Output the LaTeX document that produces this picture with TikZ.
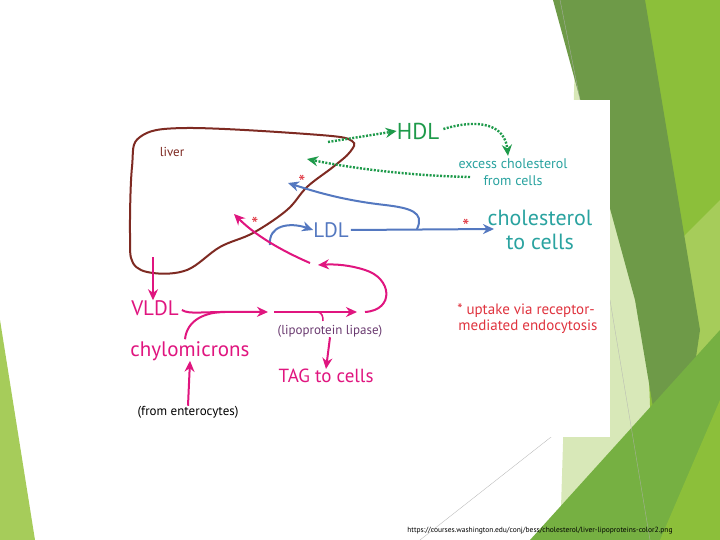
\documentclass[tikz,border=0pt]{standalone}
\usepackage{fontspec}
\setmainfont{PT Sans}
\usetikzlibrary{arrows.meta,calc}
\definecolor{mag}{HTML}{E0157F}
\definecolor{brn}{HTML}{7E2A22}
\definecolor{grn}{HTML}{1E9A4A}
\definecolor{tea}{HTML}{2AA3A0}
\definecolor{blu}{HTML}{5478C0}
\definecolor{rd}{HTML}{E0343F}
\definecolor{lipc}{HTML}{6A3A70}
\definecolor{g1}{HTML}{8CBF3A}
\definecolor{g2}{HTML}{6E9A48}
\definecolor{g3}{HTML}{A6CC5A}
\definecolor{g4}{HTML}{D8E8B8}
\definecolor{g5}{HTML}{76B042}
\tikzset{
 tip/.style={-{Stealth[length=11pt,width=10pt]}},
 mline/.style={mag,line width=2pt,tip},
 bline/.style={blu,line width=2pt,tip},
 gdot/.style={grn,line width=2.4pt,dash pattern=on 2pt off 1.5pt,tip},
 lbl/.style={inner sep=0pt,anchor=center},
 ast/.style={rd,inner sep=0pt,font=\fontsize{20}{20}\selectfont}
}
\begin{document}
\begin{tikzpicture}[x=1pt,y=-1pt]
\useasboundingbox (0,0) rectangle (720,540);
\fill[white] (0,0) rectangle (720,540);
% decorations
\fill[g3] (0,320) -- (35,540) -- (0,540) -- cycle;
\fill[g4] (575,60) -- (640,120) -- (660,540) -- (560,540) -- cycle;
\fill[g1] (635,0) -- (720,0) -- (720,540) -- (655,540) -- cycle;
\fill[g3] (660,260) -- (720,200) -- (720,540) -- (690,540) -- cycle;
\fill[g2] (553,0) -- (645,0) -- (700,330) -- (672,520) -- (635,300) -- cycle;
\fill[g5] (530,540) -- (720,330) -- (720,540) -- cycle;
\fill[g1] (660,540) -- (720,400) -- (720,540) -- cycle;
\draw[gray!60,line width=0.3pt] (560,0) -- (580,100) (610,300) -- (650,540) (420,540) -- (560,430);
% white image
\fill[white] (120,100) rectangle (610,437);
% liver
\node[lbl,brn,font=\fontsize{13}{13}\selectfont] (liver) at (172,152) {liver};
\draw[brn,line width=2pt] plot[smooth cycle,tension=0.6] coordinates{(140,137) (187,128) (320,135) (352,141) (350,152) (333,167) (307,187) (287,210) (253,233) (220,247) (187,270) (153,273) (133,263) (130,233) (132,167)};
% HDL
\node[lbl,grn,font=\fontsize{23}{23}\selectfont] (hdl) at (418,131) {HDL};
\node[lbl,tea,font=\fontsize{14}{14}\selectfont] (exc) at (513,164) {excess cholesterol};
\node[lbl,tea,font=\fontsize{14}{14}\selectfont] (fc) at (513,181) {from cells};
\coordinate (h0) at (328,142);
\draw[gdot] (h0) -- (hdl.west);
\draw[gdot] ($(hdl.east)+(4,-2)$) .. controls (480,118) and (505,125) .. ($(exc.north)+(-5,-3)$);
\coordinate (e0) at (470,177);
\coordinate (e1) at (307,159);
\draw[gdot] (e0) .. controls (420,176) and (360,170) .. (e1);
% LDL
\node[lbl,blu,font=\fontsize{21}{21}\selectfont] (ldl) at (331,230) {LDL};
\node[lbl,tea,font=\fontsize{22}{22}\selectfont] (chol) at (540,218) {cholesterol};
\node[lbl,tea,font=\fontsize{22}{22}\selectfont] (tc) at (540,242) {to cells};
\draw[bline] (ldl.east) ++(2,0) -- (494,229);
\coordinate (b0) at (417,229);
\coordinate (b1) at (288,183);
\draw[bline] (b0) .. controls (425,212) and (410,208) .. (385,205) .. controls (340,200) and (310,190) .. (b1);
\coordinate (c0) at (270,245);
\draw[bline] (c0) .. controls (268,225) and (290,222) .. (ldl.west);
\node[ast] (a1) at (302,182) {*};
\node[ast] (a2) at (255,224) {*};
\node[ast] (a3) at (466,226) {*};
% magenta
\node[lbl,mag,font=\fontsize{21}{21}\selectfont] (vldl) at (155,308) {VLDL};
\node[lbl,mag,font=\fontsize{21}{21}\selectfont] (chy) at (190,351) {chylomicrons};
\node[lbl,mag,font=\fontsize{19}{19}\selectfont] (tag) at (326,376) {TAG to cells};
\node[lbl,lipc,font=\fontsize{13}{13}\selectfont] (lip) at (330,331) {(lipoprotein lipase)};
\node[lbl,black,font=\fontsize{13}{13}\selectfont] (ent) at (188,412) {(from enterocytes)};
\coordinate (l0) at (153,257);
\draw[mline] (l0) -- (vldl.north -| l0);
\coordinate (m1) at (268,312);
\draw[mline] (vldl.east) ++(3,2) .. controls (190,315) and (200,311) .. (m1);
\draw[mag,line width=2pt] (chy.north) ++(-5,-2) .. controls (187,320) and (205,312) .. (225,312);
\draw[mline] (ent.north) -- (chy.south);
\coordinate (m2) at (274,312);
\coordinate (m3) at (357,312);
\draw[mline] (m2) -- (m3);
\draw[mag,line width=1.5pt] (318,312) .. controls (322,313) and (323,316) .. (323,321);
\draw[mline] (lip.south) -- (tag.north);
\coordinate (r0) at (365,312);
\coordinate (r1) at (318,265);
\draw[mline] (r0) .. controls (395,310) and (392,278) .. (365,270) .. controls (350,265) and (335,264) .. (r1);
\coordinate (r2) at (310,263);
\coordinate (r3) at (234,214);
\draw[mline] (r2) .. controls (280,250) and (255,235) .. (r3);
% footnote
\node[lbl,rd,font=\fontsize{15}{15}\selectfont] (fn1) at (526,311) {* uptake via receptor-};
\node[lbl,rd,font=\fontsize{15}{15}\selectfont] (fn2) at (528,327) {mediated endocytosis};
\node[lbl,black,font=\fontsize{7.5}{7.5}\selectfont] (url) at (540,531) {https://courses.washington.edu/conj/bess/cholesterol/liver-lipoproteins-color2.png};
\end{tikzpicture}
\end{document}
